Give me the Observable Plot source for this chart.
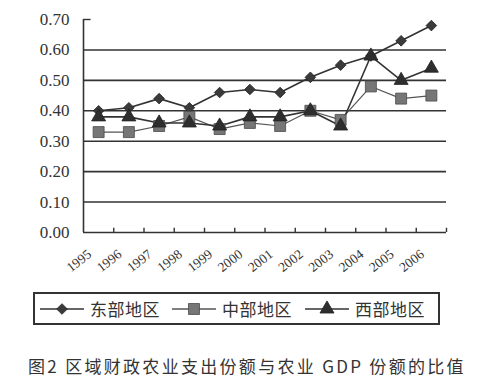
<!DOCTYPE html>
<html><head><meta charset="utf-8">
<script src="https://cdn.jsdelivr.net/npm/d3@7"></script>
<script src="https://cdn.jsdelivr.net/npm/@observablehq/plot@0.6"></script>
<style>
body{margin:0;background:#fff;}
#wrap{position:relative;width:491px;height:390px;overflow:hidden;background:#fff;}
#chart{position:absolute;left:0;top:0;}
#legend{position:absolute;left:33px;top:292px;width:407px;height:33px;box-sizing:border-box;border:2px solid #333;}
.item{position:absolute;top:0;height:29px;display:flex;align-items:center;}
.item span{font-family:"Noto Sans CJK SC",sans-serif;font-size:17px;color:#333;margin-left:6px;letter-spacing:0.5px;}
#caption{position:absolute;left:28px;top:353px;font-family:"Noto Sans CJK SC",sans-serif;font-size:17px;letter-spacing:2.3px;color:#333;white-space:nowrap;}
</style></head><body>
<div id="wrap"><div id="chart"></div><div id="legend"></div><div id="caption"></div></div>
<script>
const years = [1995,1996,1997,1998,1999,2000,2001,2002,2003,2004,2005,2006];
const east = [0.40,0.41,0.44,0.41,0.46,0.47,0.46,0.51,0.55,0.58,0.63,0.68];
const central = [0.33,0.33,0.35,0.38,0.34,0.36,0.35,0.40,0.37,0.48,0.44,0.45];
const west = [0.38,0.38,0.36,0.36,0.35,0.38,0.38,0.40,0.35,0.58,0.50,0.54];
const seriesNames = ["东部地区","中部地区","西部地区"];
const yTicks = [0,0.1,0.2,0.3,0.4,0.5,0.6,0.7];
const gridValues = [0.1,0.2,0.3,0.4,0.5,0.6];
const captionText = "图2 区域财政农业支出份额与农业 GDP 份额的比值";

const styles = [
  {symbol:"diamond2", r:4.8, fill:"#3a3a3a", stroke:"#222", line:"#333", lw:1.6},
  {symbol:"square", r:6.2, fill:"#767676", stroke:"#4a4a4a", line:"#555", lw:1.2},
  {symbol:"triangle", r:5.2, fill:"#2e2e2e", stroke:"#222", line:"#333", lw:1.6}
];
const seriesVals = [east, central, west];
const rows = seriesVals.flatMap((vals,i)=>years.map((yr,j)=>({year:yr, value:vals[j], series:seriesNames[i]})));
const lo = years[0]-0.5, hi = years[years.length-1]+0.5;
const boundaries = years.map(y=>y+0.5);

const marks = [
  Plot.ruleY(gridValues, {x1:lo, x2:hi, stroke:"#333", strokeWidth:1.6}),
  Plot.ruleY([0], {x1:lo, x2:hi, stroke:"#333", strokeWidth:1.6}),
  Plot.ruleY([0.7], {x1:lo, x2:lo+0.25, stroke:"#333", strokeWidth:1.4}),
  Plot.ruleX([lo], {y1:0, y2:0.7, stroke:"#333", strokeWidth:1.6}),
  Plot.ruleX(boundaries, {y1:0, y2:0.014, stroke:"#333", strokeWidth:1.4}),
  Plot.axisY(yTicks, {label:null, tickFormat:d3.format(".2f"), tickSize:0, tickPadding:14, fontSize:17, fontFamily:"Liberation Serif", fill:"#333", letterSpacing:1.4}),
  Plot.axisX(years, {label:null, tickFormat:d=>String(d), tickSize:0, tickPadding:20, tickRotate:-38, fontSize:13.5, fontFamily:"Liberation Serif", fill:"#333", dx:-9})
];
seriesNames.forEach((name,i)=>{
  const st = styles[i];
  const data = rows.filter(d=>d.series===name);
  marks.push(Plot.line(data, {x:"year", y:"value", stroke:st.line, strokeWidth:st.lw}));
});
seriesNames.forEach((name,i)=>{
  const st = styles[i];
  const data = rows.filter(d=>d.series===name);
  marks.push(Plot.dot(data, {x:"year", y:"value", symbol:()=>st.symbol, r:st.r, fill:st.fill, stroke:st.stroke, strokeWidth:0.8}));
});

const chart = Plot.plot({
  width:491, height:282,
  marginLeft:83, marginRight:45, marginTop:19, marginBottom:50,
  x:{type:"linear", domain:[lo,hi], axis:null, label:null},
  y:{domain:[0,0.7], axis:null, label:null},
  symbol:{type:"identity"},
  style:{background:"#fff", overflow:"visible"},
  marks
});
document.getElementById("chart").appendChild(chart);

// legend
const legend = document.getElementById("legend");
const itemX = [5, 137, 270];
const symbolMap = {diamond2:d3.symbolDiamond2, square:d3.symbolSquare, triangle:d3.symbolTriangle};
seriesNames.forEach((name,i)=>{
  const st = styles[i];
  const div = document.createElement("div");
  div.className = "item";
  div.style.left = itemX[i]+"px";
  const size = Math.PI*st.r*st.r;
  const path = d3.symbol(symbolMap[st.symbol], size)();
  div.innerHTML = `<svg width="44" height="20"><line x1="0" x2="44" y1="10" y2="10" stroke="${st.line}" stroke-width="1.6"/><path d="${path}" transform="translate(22,10)" fill="${st.fill}" stroke="${st.stroke}" stroke-width="0.8"/></svg><span>${name}</span>`;
  legend.appendChild(div);
});
document.getElementById("caption").textContent = captionText;
</script></body></html>
